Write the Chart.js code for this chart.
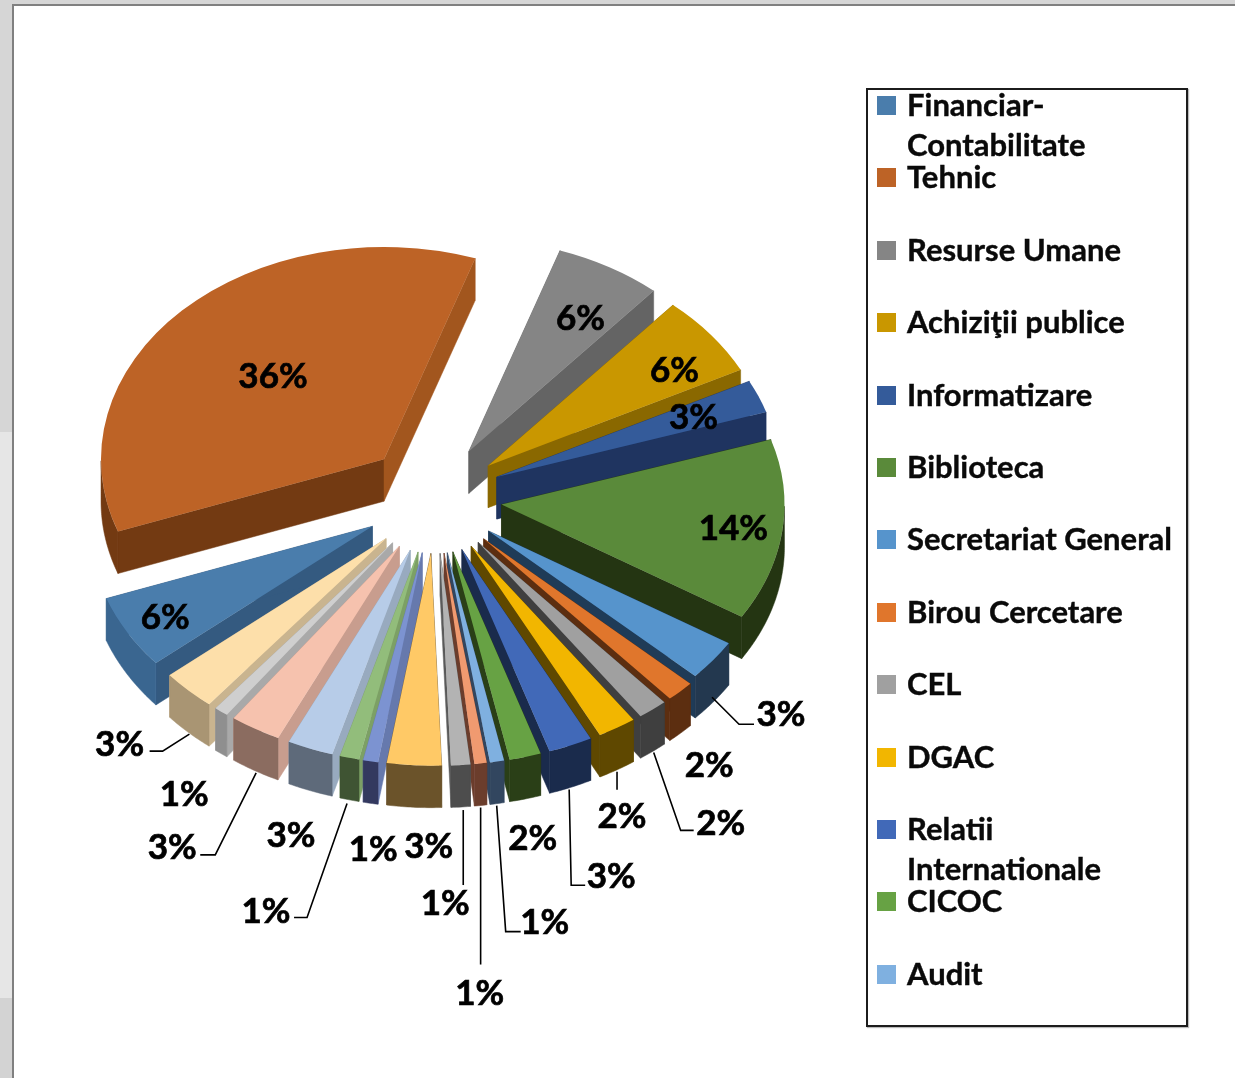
<!DOCTYPE html>
<html>
<head>
<meta charset="utf-8">
<title>Distributie pe compartimente</title>
<script src="https://cdn.jsdelivr.net/npm/chart.js@4"></script>
<style>
  html, body { margin: 0; padding: 0; background: #fff; }
  body { position: relative; width: 1235px; height: 1078px; overflow: hidden; font-family: Lato, sans-serif; }
  canvas { position: absolute; left: 0; top: 0; }
  .band { position: absolute; }
  #legend-box { position: absolute; left: 866px; top: 88px; width: 318px; height: 935px; border: 2px solid #1c1c1c; box-shadow: 1px 1px 1px #bbb; }
  .legend-swatch { position: absolute; left: 877px; width: 19px; height: 19px; }
  .legend-text { position: absolute; left: 907px; font-weight: 700; font-size: 31px; line-height: 40px; color: #0a0a0a; white-space: pre; -webkit-text-stroke: 0.4px #0a0a0a; }
</style>
</head>
<body>
<div class="band" style="left:0;top:0;width:1235px;height:4px;background:#d6d6d6"></div>
<div class="band" style="left:0;top:4px;width:12px;height:428px;background:#d6d6d6"></div>
<div class="band" style="left:0;top:432px;width:12px;height:566px;background:#e6e6e6"></div>
<div class="band" style="left:0;top:998px;width:12px;height:80px;background:#d3d3d3"></div>
<div class="band" style="left:12px;top:4px;width:1223px;height:2px;background:#808080"></div>
<div class="band" style="left:12px;top:4px;width:2px;height:1074px;background:#808080"></div>
<canvas id="pie" width="1235" height="1078"></canvas>
<div id="legend-box"></div>
<div id="legend"></div>
<script>
'use strict';

/* ---- Data ---- */
// legend in the source only names the first 13 slices
const categories = [
  'Financiar-\nContabilitate', 'Tehnic', 'Resurse Umane', 'Achiziţii publice', 'Informatizare',
  'Biblioteca', 'Secretariat General', 'Birou Cercetare', 'CEL', 'DGAC',
  'Relatii\nInternationale', 'CICOC', 'Audit'
];
const shares = [5.6, 35.7, 6.1, 6.2, 2.5, 13.8, 3.1, 1.6, 1.7, 2.2, 2.5, 1.8, 0.8, 0.7, 1.1, 3.1, 0.85, 1.1, 2.6, 2.9, 0.8, 3.1];

/* ---- Colours: top face, radial wall, outer wall ---- */
const topColors = ['#4a7dac', '#bd6326', '#858585', '#c99700', '#345b9a', '#5a8a3a', '#5694cc', '#e0762c', '#a0a0a0', '#f2b600', '#4169b8', '#67a244', '#7fb0e0', '#f09a70', '#b3b3b3', '#ffc966', '#7c93d1', '#92bd7b', '#b7cce8', '#f6c2ae', '#cfcfcf', '#fddfaa'];
const sideColors = ['#345a80', '#a2561e', '#646464', '#8a6800', '#1f3460', '#243512', '#1f3b57', '#5c2e10', '#3f3f3f', '#5f4800', '#1a2b4c', '#2a3f17', '#32465f', '#6b3d2c', '#5a5a5a', '#6b532a', '#6679ad', '#7ca065', '#98aabf', '#c89d8e', '#a9a9a9', '#c9b48f'];
const rimColors = ['#3a6690', '#733a12', '#646464', '#8a6800', '#1f3460', '#243512', '#23384f', '#5c2e10', '#3f3f3f', '#5f4800', '#1a2b4c', '#2a3f17', '#32465f', '#6b3d2c', '#4d4d4d', '#6b532a', '#33395f', '#3f5433', '#5e6a7a', '#8b6c60', '#8f8f8f', '#a99573'];

/* ---- Pie geometry (px on the page) ---- */
const CENTER_X = 435;
const CENTER_Y = 501;
const TILT = 0.75;     // vertical squash of the pie
const RADIUS = 283;
const EXPLODE = 70;    // every slice is pulled out by the same amount
const DEPTH = 42;      // height of the walls
const ROTATION = -130.1;

// the original has some perspective, back slices sit a little higher
const sliceNudges = { 0: [-2, -1], 1: [-1, -5], 2: [-1, -4], 3: [-2, -3], 4: [-3, -4], 5: [-3, -3], 6: [-2, -2] };

/* ---- Label placement, relative to the middle of each slice's outer edge ---- */
const labelOffsets = [
  [36, -16], [90, 61], [-30, 47], [-38.5, 32.5], [-68, 17], [-52, -5], [66, 53], [29, 74], [68, 114], [5, 89], [40.7, 131],
  [7.5, 82], [47.6, 161.5], [-1, 230.5], [-15.5, 139], [14.5, 81], [2.6, 88], [-83.4, 154], [-19.3, 87], [-83, 119], [-37, 83], [-68.8, 54.7]
];
// leader lines, index of slice -> polyline
const leaders = {
  6:  [[-3, 35], [24, 62], [39, 62]],
  8:  [[1, 43], [28, 121], [41, 121]],
  9:  [[0, 44], [0, 62]],
  10: [[-1.3, 44], [0.7, 139.7], [14.7, 139.7]],
  12: [[-0.4, 44], [8.6, 170], [23.6, 170]],
  13: [[0, 44], [0, 201]],
  14: [[2.5, 45], [2.5, 120]],
  17: [[-2.4, 45.6], [-42.4, 159.6], [-55.4, 159.6]],
  19: [[0.9, 44], [-40, 126], [-55, 126]],
  21: [[1, 43.7], [-25.8, 60.7], [-38.8, 60.7]]
};

/* ============================================================
   3D plugin: moves slices out, draws walls under the library's arcs
   ============================================================ */
const pie3d = {
  id: 'pie3d',
  beforeDatasetsDraw(chart) {
    const { ctx, chartArea } = chart;
    const cx = (chartArea.left + chartArea.right) / 2;
    const cy = (chartArea.top + chartArea.bottom) / 2;
    const arcs = chart.getDatasetMeta(0).data;

    arcs.forEach((arc, i) => {
      const mid = (arc.startAngle + arc.endAngle) / 2;
      const [nx, ny] = sliceNudges[i] || [0, 0];
      arc.x = cx + Math.cos(mid) * EXPLODE + nx;
      arc.y = cy + Math.sin(mid) * EXPLODE + ny / TILT;
    });

    const project = (x, y) => [CENTER_X + x - cx, CENTER_Y + (y - cy) * TILT];

    // back slices first
    const order = arcs.map((arc, i) => i).sort((a, b) =>
      Math.sin((arcs[a].startAngle + arcs[a].endAngle) / 2) - Math.sin((arcs[b].startAngle + arcs[b].endAngle) / 2));

    for (const i of order) {
      const arc = arcs[i];
      const rimPoint = a => project(arc.x + Math.cos(a) * arc.outerRadius, arc.y + Math.sin(a) * arc.outerRadius);
      const tip = project(arc.x, arc.y);

      // only the part of the rim that faces the viewer
      const rim = [];
      for (let a = arc.startAngle; a < arc.endAngle; a += 0.01) {
        if (Math.sin(a) > 0) rim.push(rimPoint(a));
      }
      if (Math.sin(arc.endAngle) > 0) rim.push(rimPoint(arc.endAngle));

      // Tehnic: its long front wall is as dark as the rim
      fillWall(ctx, [tip, rimPoint(arc.startAngle)], i === 1 ? rimColors[i] : sideColors[i]);
      fillWall(ctx, [tip, rimPoint(arc.endAngle)], sideColors[i]);
      if (rim.length > 1) fillWall(ctx, rim, rimColors[i]);
    }

    // the arcs themselves are drawn squashed by the library
    ctx.save();
    ctx.translate(CENTER_X, CENTER_Y);
    ctx.scale(1, TILT);
    ctx.translate(-cx, -cy);
  },
  afterDatasetsDraw(chart) {
    const { ctx } = chart;
    ctx.restore();

    const arcs = chart.getDatasetMeta(0).data;

    ctx.save();
    ctx.fillStyle = '#000';
    ctx.font = '700 35px Lato, sans-serif';
    ctx.textAlign = 'center';
    ctx.textBaseline = 'middle';
    arcs.forEach((arc, i) => {
      const mid = (arc.startAngle + arc.endAngle) / 2;
      const ox = CENTER_X + Math.cos(mid) * (EXPLODE + RADIUS);
      const oy = CENTER_Y + Math.sin(mid) * (EXPLODE + RADIUS) * TILT;
      if (leaders[i]) {
        ctx.strokeStyle = '#000';
        ctx.lineWidth = 1.6;
        ctx.beginPath();
        leaders[i].forEach(([dx, dy], k) => {
          if (k === 0) ctx.moveTo(ox + dx, oy + dy);
          else ctx.lineTo(ox + dx, oy + dy);
        });
        ctx.stroke();
      }
      const [lx, ly] = labelOffsets[i];
      const text = Math.round(shares[i]) + '%';
      ctx.strokeStyle = '#000';
      ctx.lineWidth = 0.7;
      ctx.strokeText(text, ox + lx, oy + ly);
      ctx.fillText(text, ox + lx, oy + ly);
    });
    ctx.restore();
  }
};

function fillWall(ctx, points, color) {
  ctx.fillStyle = color;
  ctx.strokeStyle = color;
  ctx.lineWidth = 0.5;
  ctx.beginPath();
  points.forEach(([x, y], k) => {
    if (k === 0) ctx.moveTo(x, y);
    else ctx.lineTo(x, y);
  });
  for (let k = points.length - 1; k >= 0; k--) {
    ctx.lineTo(points[k][0], points[k][1] + DEPTH);
  }
  ctx.closePath();
  ctx.fill();
  ctx.stroke();
}

/* ============================================================
   Chart
   ============================================================ */
new Chart(document.getElementById('pie'), {
  type: 'pie',
  data: {
    labels: categories,
    datasets: [{
      data: shares,
      backgroundColor: topColors,
      borderWidth: 0,
      radius: RADIUS,
      clip: false
    }]
  },
  options: {
    responsive: false,
    animation: false,
    rotation: ROTATION,
    events: [],
    plugins: {
      legend: { display: false },
      tooltip: { enabled: false }
    }
  },
  plugins: [pie3d]
});

/* ============================================================
   Legend
   ============================================================ */
const legendEl = document.getElementById('legend');
const LEGEND_FIRST_ROW = 104;
const LEGEND_ROW_STEP = 72.4;
categories.forEach((name, i) => {
  const rowY = LEGEND_FIRST_ROW + i * LEGEND_ROW_STEP;
  const swatch = document.createElement('div');
  swatch.className = 'legend-swatch';
  swatch.style.top = (rowY - 8) + 'px';
  swatch.style.background = topColors[i];
  const text = document.createElement('div');
  text.className = 'legend-text';
  text.style.top = (rowY - 20) + 'px';
  text.textContent = name;
  legendEl.append(swatch, text);
});
</script>
</body>
</html>
